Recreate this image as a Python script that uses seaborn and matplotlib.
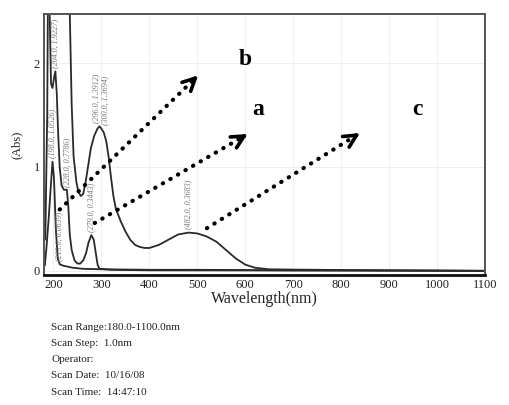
import numpy as np
import pandas as pd
import matplotlib
matplotlib.use("Agg")
import matplotlib.pyplot as plt
import seaborn as sns

# ---- data ----
wl_a = [188, 192, 195, 198, 201, 204, 207, 210, 213, 217, 222, 228, 231, 234, 238, 244, 250,
        256, 262, 268, 273, 279, 284, 288, 292, 296, 320, 400, 600, 800, 1100]
abs_a = [3.0, 2.5, 1.8, 1.76, 1.85, 1.92, 1.7, 1.3, 1.0, 0.82, 0.78, 0.78, 0.62, 0.35, 0.2, 0.1, 0.07,
         0.07, 0.1, 0.17, 0.27, 0.344, 0.3, 0.18, 0.06, 0.02, 0.01, 0.005, 0.004, 0.003, 0.0]

wl_b = [182, 185, 190, 195, 198, 201, 205, 209, 213, 220, 240, 260, 300, 400, 500, 700, 900, 1100]
abs_b = [0.05, 0.2, 0.5, 0.85, 1.05, 0.9, 0.4, 0.12, 0.064, 0.05, 0.03, 0.02, 0.015, 0.01, 0.01,
         0.005, 0.003, 0.0]

wl_c = [183, 187, 189, 230, 234, 238, 242, 248, 252, 257, 262, 267, 272, 278, 285, 292, 296, 300,
        305, 310, 315, 320, 325, 330, 340, 350, 360, 370, 380, 390, 400, 420, 440, 460, 482, 500,
        520, 540, 560, 580, 600, 620, 650, 700, 800, 900, 1000, 1100]
abs_c = [0.3, 1.5, 3.0, 3.0, 2.5, 1.6, 1.1, 0.85, 0.76, 0.72, 0.74, 0.85, 1.0, 1.18, 1.3, 1.37, 1.391, 1.369,
         1.33, 1.25, 1.1, 0.9, 0.72, 0.6, 0.48, 0.38, 0.3, 0.25, 0.23, 0.22, 0.22, 0.25, 0.3, 0.35, 0.368, 0.36,
         0.33, 0.28, 0.2, 0.12, 0.06, 0.03, 0.015, 0.012, 0.008, 0.005, 0.003, 0.0]

peak_labels = ["(204.0, 1.9227)", "(198.0, 1.0526)", "(228.0, 0.7786)", "(213.0, 0.0639)",
               "(279.0, 0.3443)", "(296.0, 1.3912)", "(300.0, 1.3694)", "(482.0, 0.3683)"]
peak_x = [204, 198, 228, 213, 279, 296, 300, 482]
peak_y = [1.9227, 1.0526, 0.7786, 0.0639, 0.3443, 1.3912, 1.3694, 0.3683]
label_shift_x = [0, 0, 0, 0, 0, -6, 7, 0]

letters = ["b", "a", "c"]
letter_x = [600, 627, 959]
letter_y = [2.03, 1.55, 1.55]
arrow_start_x = [213, 286, 520]
arrow_start_y = [0.59, 0.46, 0.41]
arrow_end_x = [506, 610, 844]
arrow_end_y = [1.90, 1.33, 1.34]

xticks = [200, 300, 400, 500, 600, 700, 800, 900, 1000, 1100]
yticks = [0, 1, 2]

info_lines = ["Scan Range:180.0-1100.0nm", "Scan Step:  1.0nm", "Operator:",
              "Scan Date:  10/16/08", "Scan Time:  14:47:10"]

# ---- build frame ----
df = pd.concat([
    pd.DataFrame({"wl": wl_a, "abs": abs_a, "curve": "a"}),
    pd.DataFrame({"wl": wl_b, "abs": abs_b, "curve": "b"}),
    pd.DataFrame({"wl": wl_c, "abs": abs_c, "curve": "c"}),
])

sns.set_style("white")
plt.rcParams["font.family"] = ["Liberation Serif", "DejaVu Serif"]

fig = plt.figure(figsize=(5.1, 4.05), dpi=100)
ax = fig.add_axes([0.086, 0.321, 0.865, 0.644])

sns.lineplot(data=df, x="wl", y="abs", hue="curve", units="curve", estimator=None,
             palette=["#2a2a2a", "#2a2a2a", "#2a2a2a"], linewidth=1.3, legend=False,
             sort=False, ax=ax)

ax.set_xlim(180, 1100)
ax.set_ylim(-0.04, 2.47)
ax.set_xticks(xticks)
ax.set_yticks(yticks)
ax.tick_params(length=0, pad=3, labelsize=9, colors="#222222")
ax.grid(True, color="#ececec", linewidth=0.6)
for s in ["left", "right", "top"]:
    ax.spines[s].set_color("#555555")
    ax.spines[s].set_linewidth(1.4)
ax.spines["bottom"].set_color("#111111")
ax.spines["bottom"].set_linewidth(2.0)

ax.set_xlabel("Wavelength(nm)", fontsize=11.5, labelpad=0, color="#222222")
ax.set_ylabel("(Abs)", fontsize=9, labelpad=8, color="#222222")

for lab, px, py, dx in zip(peak_labels, peak_x, peak_y, label_shift_x):
    ax.text(px + dx, py + 0.03, lab, rotation=90, ha="center", va="bottom",
            fontsize=5.8, style="italic", color="#777777")

for sx, sy, ex, ey in zip(arrow_start_x, arrow_start_y, arrow_end_x, arrow_end_y):
    ax.plot([sx, ex - 0.04 * (ex - sx)], [sy, ey - 0.04 * (ey - sy)], color="black",
            linewidth=3, linestyle=(0, (0.1, 2.0)), dash_capstyle="round")
    ax.annotate("", xy=(ex, ey), xytext=(ex - 0.06 * (ex - sx), ey - 0.06 * (ey - sy)),
                arrowprops=dict(arrowstyle="->,head_length=0.9,head_width=0.45",
                                color="black", lw=2.6))

for t, lx, ly in zip(letters, letter_x, letter_y):
    ax.text(lx, ly, t, fontsize=17, fontweight="bold", ha="center", va="center", color="black")

for i, line in enumerate(info_lines):
    fig.text(51 / 510, 1 - (327 + i * 16.3) / 405, line, fontsize=8, va="center",
             ha="left", color="#222222")

fig.savefig("out.png", dpi=100, facecolor="white")
